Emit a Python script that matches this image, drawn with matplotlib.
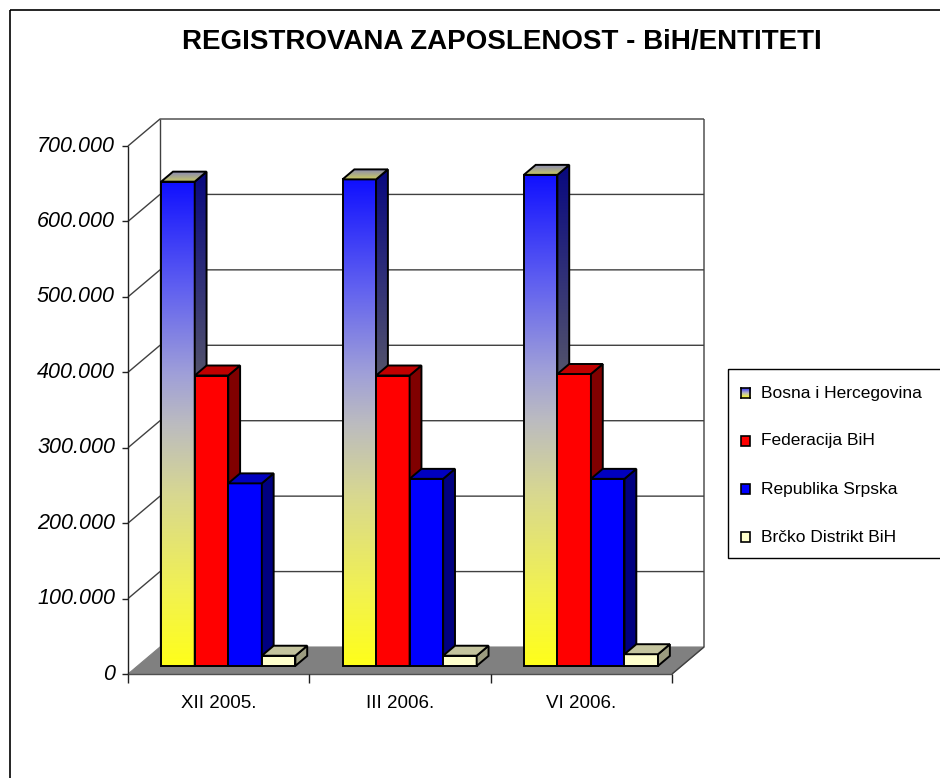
import numpy as np
import matplotlib
matplotlib.use("Agg")
import matplotlib.pyplot as plt
from matplotlib.patches import Polygon, Rectangle
from matplotlib.colors import LinearSegmentedColormap
from matplotlib.transforms import Affine2D

# ---------------- data ----------------
title = "REGISTROVANA ZAPOSLENOST - BiH/ENTITETI"
categories = ["XII 2005.", "III 2006.", "VI 2006."]
series_names = ["Bosna i Hercegovina", "Federacija BiH", "Republika Srpska", "Brčko Distrikt BiH"]
bih = [642000, 645000, 651000]
fbih = [385000, 385000, 387000]
rs = [242000, 248000, 248000]
brcko = [13500, 13500, 15500]
series_values = [bih, fbih, rs, brcko]
y_ticks = [0, 100000, 200000, 300000, 400000, 500000, 600000, 700000]
y_tick_labels = ["0", "100.000", "200.000", "300.000", "400.000", "500.000", "600.000", "700.000"]

# ---------------- styles ----------------
W, H = 940, 778
AX_L, AX_R, AX_B, AX_T = 128, 672, 674, 146
YMAX = 700000
NCAT = len(categories)
XU = NCAT / (AX_R - AX_L)
YU = YMAX / (AX_B - AX_T)
DX = 32 * XU
DY = 27 * YU
F0, F1 = 0.30, 0.67
BW = 0.185

front_cols = [None, "#FF0000", "#0000FF", "#FFFFCC"]
top_cols = [None, "#C00000", "#0000C0", "#C4C49E"]
side_cols = [None, "#800000", "#000080", "#9C9C80"]

grad_stops = [(0.0, "#FFFF1A"), (0.15, "#F2F250"), (0.35, "#D8D890"), (0.5, "#BBBBC0"),
              (0.6, "#A0A0D8"), (0.78, "#6060F0"), (1.0, "#1010FF")]
grad_cmap = LinearSegmentedColormap.from_list("bihgrad", grad_stops)

fig = plt.figure(figsize=(W / 100, H / 100), dpi=100)
ax = fig.add_axes([AX_L / W, 1 - AX_B / H, (AX_R - AX_L) / W, (AX_B - AX_T) / H])
ax.set_axis_off()
pix = Affine2D().scale(1 / W, -1 / H).translate(0, 1) + fig.transFigure


def P(x, y, d):
    return (x + d * DX, y + d * DY)


z = [2]


def nz():
    z[0] += 0.01
    return z[0]


def poly(pts, fc, ec="black", lw=1.4, clip=False, zo=None):
    p = Polygon(pts, closed=True, facecolor=fc, edgecolor=ec, linewidth=lw,
                joinstyle="miter", clip_on=clip, zorder=nz() if zo is None else zo)
    ax.add_patch(p)
    return p


def line(pts, color="#404040", lw=1.0, zo=1.5):
    xs, ys = zip(*pts)
    ax.plot(xs, ys, color=color, lw=lw, clip_on=False, zorder=zo, solid_capstyle="butt")


# floor
poly([P(0, 0, 0), P(NCAT, 0, 0), P(NCAT, 0, 1), P(0, 0, 1)], "#808080", ec="#808080", lw=0.8, zo=1)

# grid lines (left wall diagonals + back wall)
for v in y_ticks[1:]:
    line([P(0, v, 0), P(0, v, 1), P(NCAT, v, 1)])
line([P(0, 0, 1), P(0, YMAX, 1)])
line([P(NCAT, 0, 0), P(NCAT, 0, 1), P(NCAT, YMAX, 1)])
line([P(0, 0, 0), P(0, YMAX, 0)], color="#202020")
line([P(0, 0, 0), P(NCAT, 0, 0)], color="#505050")

# y ticks and labels
for v, lab in zip(y_ticks, y_tick_labels):
    line([(-6 * XU, v), (0, v)], color="#202020")
    ax.text(-13 * XU, v, lab, ha="right", va="center", fontsize=15.5, style="italic",
            family=["Liberation Sans", "DejaVu Sans"], clip_on=False)

# x ticks and labels
for i in range(NCAT + 1):
    line([(i, 0), (i, -9 * YU)], color="#202020")
for i, c in enumerate(categories):
    ax.text(i + 0.5, -29 * YU, c, ha="center", va="center", fontsize=13.5,
            family=["Liberation Sans", "DejaVu Sans"], clip_on=False)

# bars
grad = np.linspace(0, 1, 256).reshape(-1, 1)
for gi in range(NCAT):
    for si, vals in enumerate(series_values):
        v = vals[gi]
        x0 = gi + 0.5 - 2 * BW + si * BW
        x1 = x0 + BW
        front = [P(x0, 0, F0), P(x1, 0, F0), P(x1, v, F0), P(x0, v, F0)]
        side = [P(x1, 0, F0), P(x1, 0, F1), P(x1, v, F1), P(x1, v, F0)]
        top = [P(x0, v, F0), P(x1, v, F0), P(x1, v, F1), P(x0, v, F1)]
        if si == 0:
            zf = nz()
            pf = poly(front, "none", ec="none", lw=0, clip=True, zo=zf)
            fx0, fy0 = front[0]
            fx1, fy1 = front[2]
            im = ax.imshow(grad, cmap=grad_cmap, origin="lower", aspect="auto",
                           extent=[fx0, fx1, fy0, fy1], zorder=zf, interpolation="bilinear")
            im.set_clip_path(pf)
            poly(front, "none", lw=1.4, zo=zf + 0.001)
            zs = nz()
            ps = poly(side, "none", ec="none", lw=0, clip=True, zo=zs)
            rgb = grad_cmap(grad[:, 0])[:, :3] * 0.5
            img = np.repeat(rgb[:, None, :], 2, axis=1)
            im2 = ax.imshow(img, origin="lower", aspect="auto",
                            extent=[side[0][0], side[1][0], side[0][1], side[2][1]], zorder=zs,
                            interpolation="bilinear")
            im2.set_clip_path(ps)
            poly(side, "none", lw=1.4, zo=zs + 0.001)
            zt = nz()
            pt = poly(top, "none", ec="none", lw=0, clip=True, zo=zt)
            tcm = LinearSegmentedColormap.from_list("t", ["#C8C860", "#8C8CB4"])
            im3 = ax.imshow(grad, cmap=tcm, origin="lower", aspect="auto",
                            extent=[top[0][0], top[2][0], top[0][1], top[2][1]], zorder=zt,
                            interpolation="bilinear")
            im3.set_clip_path(pt)
            poly(top, "none", lw=1.4, zo=zt + 0.001)
        else:
            poly(front, front_cols[si])
            poly(side, side_cols[si])
            poly(top, top_cols[si])

ax.set_xlim(0, NCAT)
ax.set_ylim(0, YMAX)

# title
fig.text(502 / W, 1 - 42 / H, title, ha="center", va="center", fontsize=20, fontweight="bold",
         family=["Liberation Sans Narrow", "Liberation Sans", "DejaVu Sans"])

# outer border
fig.add_artist(Rectangle((10, 10), 940, 780, transform=pix, fill=False, edgecolor="black", lw=1.2))

# legend (manual)
fig.add_artist(Rectangle((728, 369), 230, 189, transform=pix, fill=False, edgecolor="black", lw=1.0))
leg_y = [393, 441, 489, 537]
leg_cols = [None, "#FF0000", "#0000FF", "#FFFFCC"]
for i, name in enumerate(series_names):
    yy = leg_y[i]
    if i == 0:
        lax = fig.add_axes([741 / W, 1 - (yy + 5) / H, 9 / W, 10 / H])
        lax.imshow(grad[::-1], cmap=LinearSegmentedColormap.from_list("l", ["#FFFF1A", "#BBBBC0", "#3030FF"]),
                   aspect="auto", extent=[0, 1, 0, 1], origin="upper")
        lax.set_xticks([]); lax.set_yticks([])
        for s in lax.spines.values():
            s.set_linewidth(1.2)
    else:
        fig.add_artist(Rectangle((741, yy - 5), 9, 10, transform=pix, facecolor=leg_cols[i],
                                 edgecolor="black", lw=1.2))
    fig.text(761 / W, 1 - yy / H, name, ha="left", va="center", fontsize=12.5,
             family=["Liberation Sans", "DejaVu Sans"])

fig.savefig("out.png", dpi=100)
